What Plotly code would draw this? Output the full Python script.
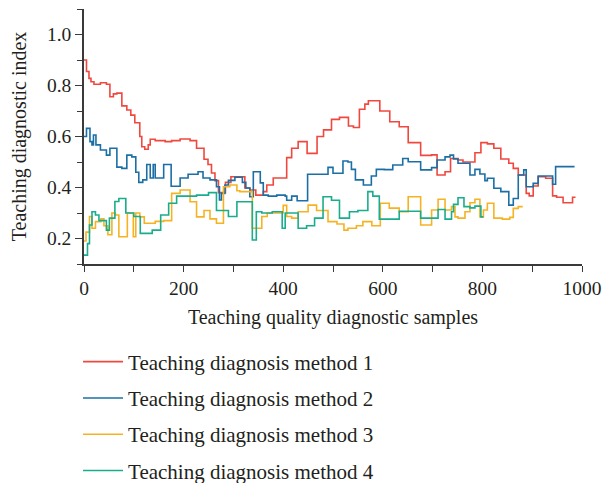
import plotly.graph_objects as go

# ---- data (step series: x = step start, y = value) ----
m1_x = [0, 5, 10, 14, 20, 33, 45, 52, 59, 66, 76, 86, 94, 102, 112, 116, 122, 129, 133, 143, 163, 176, 193, 213, 226, 241, 249, 256, 263, 270, 284, 295, 323, 333, 345, 360, 367, 380, 407, 417, 430, 448, 468, 481, 497, 513, 531, 541, 553, 564, 571, 594, 614, 633, 651, 676, 698, 709, 725, 736, 751, 761, 785, 797, 810, 823, 837, 853, 862, 872, 888, 894, 902, 912, 927, 941, 949, 962, 981, 987]
m1_y = [0.90, 0.855, 0.828, 0.815, 0.805, 0.811, 0.805, 0.756, 0.767, 0.77, 0.72, 0.704, 0.684, 0.654, 0.60, 0.56, 0.55, 0.567, 0.589, 0.584, 0.58, 0.584, 0.59, 0.584, 0.554, 0.511, 0.49, 0.457, 0.427, 0.38, 0.42, 0.442, 0.398, 0.39, 0.37, 0.384, 0.41, 0.437, 0.517, 0.554, 0.58, 0.534, 0.60, 0.626, 0.667, 0.675, 0.641, 0.635, 0.707, 0.727, 0.74, 0.70, 0.658, 0.638, 0.576, 0.526, 0.528, 0.449, 0.462, 0.514, 0.508, 0.50, 0.536, 0.576, 0.571, 0.554, 0.512, 0.495, 0.475, 0.449, 0.377, 0.367, 0.406, 0.442, 0.436, 0.367, 0.362, 0.34, 0.362, 0.362]

m2_x = [0, 5, 12, 16, 19, 24, 33, 45, 52, 66, 76, 86, 96, 104, 110, 118, 126, 133, 139, 143, 160, 175, 193, 209, 229, 239, 253, 266, 272, 276, 283, 290, 303, 318, 325, 333, 340, 354, 360, 370, 387, 404, 407, 417, 428, 449, 490, 500, 520, 530, 537, 545, 561, 577, 587, 603, 620, 640, 651, 676, 698, 709, 725, 735, 742, 751, 775, 785, 795, 805, 810, 823, 837, 853, 862, 872, 883, 888, 902, 912, 941, 947, 985]
m2_y = [0.60, 0.632, 0.58, 0.567, 0.606, 0.567, 0.547, 0.527, 0.554, 0.48, 0.475, 0.527, 0.52, 0.46, 0.42, 0.43, 0.49, 0.437, 0.49, 0.437, 0.49, 0.405, 0.437, 0.452, 0.462, 0.437, 0.43, 0.403, 0.351, 0.377, 0.41, 0.428, 0.44, 0.42, 0.398, 0.364, 0.462, 0.418, 0.37, 0.366, 0.37, 0.366, 0.35, 0.366, 0.348, 0.452, 0.479, 0.456, 0.504, 0.50, 0.471, 0.43, 0.41, 0.445, 0.471, 0.47, 0.488, 0.514, 0.501, 0.469, 0.478, 0.508, 0.52, 0.527, 0.512, 0.495, 0.449, 0.471, 0.453, 0.427, 0.436, 0.397, 0.384, 0.331, 0.357, 0.449, 0.469, 0.403, 0.416, 0.445, 0.413, 0.482, 0.482]

m3_x = [0, 4, 11, 16, 23, 34, 40, 48, 56, 63, 70, 87, 94, 99, 104, 112, 121, 143, 160, 176, 193, 213, 226, 241, 253, 266, 280, 293, 307, 313, 338, 357, 368, 400, 407, 417, 430, 450, 467, 490, 508, 522, 530, 547, 560, 578, 595, 613, 633, 651, 676, 698, 711, 725, 738, 745, 751, 765, 775, 785, 795, 802, 810, 823, 840, 855, 862, 872, 881]
m3_y = [0.19, 0.225, 0.286, 0.24, 0.266, 0.277, 0.25, 0.215, 0.30, 0.292, 0.207, 0.30, 0.30, 0.207, 0.30, 0.285, 0.26, 0.267, 0.27, 0.377, 0.39, 0.344, 0.285, 0.31, 0.277, 0.26, 0.403, 0.41, 0.387, 0.384, 0.24, 0.286, 0.30, 0.33, 0.286, 0.28, 0.305, 0.331, 0.31, 0.266, 0.257, 0.233, 0.24, 0.25, 0.266, 0.25, 0.338, 0.319, 0.305, 0.364, 0.253, 0.312, 0.354, 0.312, 0.325, 0.285, 0.28, 0.305, 0.34, 0.354, 0.285, 0.312, 0.338, 0.28, 0.276, 0.283, 0.318, 0.325, 0.325]

m4_x = [0, 7, 11, 16, 23, 30, 45, 51, 62, 70, 84, 100, 113, 137, 154, 170, 186, 226, 250, 266, 280, 290, 307, 338, 346, 357, 378, 398, 404, 430, 447, 463, 480, 497, 513, 533, 550, 570, 580, 593, 633, 676, 711, 725, 738, 742, 751, 763, 775, 785, 797, 802]
m4_y = [0.135, 0.18, 0.253, 0.305, 0.292, 0.27, 0.233, 0.28, 0.345, 0.357, 0.30, 0.286, 0.22, 0.233, 0.292, 0.338, 0.366, 0.37, 0.38, 0.31, 0.31, 0.286, 0.344, 0.194, 0.305, 0.30, 0.305, 0.24, 0.30, 0.24, 0.25, 0.28, 0.364, 0.35, 0.28, 0.305, 0.31, 0.384, 0.366, 0.276, 0.307, 0.28, 0.314, 0.276, 0.305, 0.334, 0.36, 0.325, 0.32, 0.327, 0.285, 0.285]

names = ["Teaching diagnosis method 1", "Teaching diagnosis method 2",
         "Teaching diagnosis method 3", "Teaching diagnosis method 4"]
colors = ["#F0483E", "#1B6FA5", "#F5B324", "#1AAD8D"]

x_ticks = [0, 200, 400, 600, 800, 1000]
y_ticks = [0.2, 0.4, 0.6, 0.8, 1.0]
y_ticklabels = ["0.2", "0.4", "0.6", "0.8", "1.0"]

FONT = "Liberation Serif"
fig = go.Figure()
for i, (xs, ys) in enumerate([(m1_x, m1_y), (m2_x, m2_y), (m3_x, m3_y), (m4_x, m4_y)]):
    fig.add_trace(go.Scatter(x=xs, y=ys, mode="lines", name=names[i],
                             line=dict(color=colors[i], width=1.6, shape="hv"),
                             legendgroup=f"g{i}"))

axis_col = "#3a3a3a"
txt_col = "#231f20"
fig.update_layout(
    width=603, height=483,
    margin=dict(l=84, r=21, t=9, b=219, autoexpand=False),
    plot_bgcolor="white", paper_bgcolor="white",
    font=dict(family=FONT, size=19.5, color=txt_col),
    xaxis=dict(range=[0, 1000], tickvals=x_ticks, ticks="outside", ticklen=6,
               tickcolor=axis_col, tickwidth=1.2, automargin=False,
               ticklabelstandoff=0,
               minor=dict(dtick=100, ticks="outside", ticklen=6, tickcolor=axis_col),
               showline=True, linecolor=axis_col, linewidth=1.5, showgrid=False,
               zeroline=False,
               title=dict(text="Teaching quality diagnostic samples", standoff=12,
                          font=dict(size=20)),
               tickfont=dict(size=19.5)),
    yaxis=dict(range=[0.1, 1.1], tickvals=y_ticks, ticktext=y_ticklabels,
               ticks="outside", ticklen=7, tickcolor=axis_col, tickwidth=1.2,
               automargin=False,
               minor=dict(dtick=0.1, tick0=0.1, ticks="outside", ticklen=5, tickcolor=axis_col),
               showline=True, linecolor=axis_col, linewidth=1.5, showgrid=False,
               zeroline=False,
               title=dict(text="Teaching diagnostic index", standoff=15,
                          font=dict(size=20)),
               tickfont=dict(size=19.5)),
    xaxis2=dict(range=[0, 1000], overlaying="x", side="top", anchor="y",
                tickvals=[0, 100, 200, 300, 400, 500, 600, 700, 800, 900, 1000],
                ticks="inside", ticklen=5, tickcolor=axis_col, showticklabels=False,
                showline=True, linecolor=axis_col, linewidth=1.5, showgrid=False,
                zeroline=False, automargin=False),
    yaxis2=dict(range=[0.1, 1.1], overlaying="y", side="right", anchor="x",
                tickvals=[0.2, 0.3, 0.4, 0.5, 0.6, 0.7, 0.8, 0.9, 1.0],
                ticks="inside", ticklen=7, tickcolor=axis_col, showticklabels=False,
                showline=True, linecolor=axis_col, linewidth=1.5, showgrid=False,
                zeroline=False, automargin=False),
    legend=dict(x=-0.012, xanchor="left", y=-0.304, yanchor="top",
                orientation="v", tracegroupgap=6, itemwidth=40,
                font=dict(size=21), bgcolor="rgba(0,0,0,0)"),
    showlegend=True,
)
fig.write_html(
    "out.html",
    config={"displayModeBar": False},
    post_script="document.body.style.margin='0';document.body.style.overflow='hidden';",
)
